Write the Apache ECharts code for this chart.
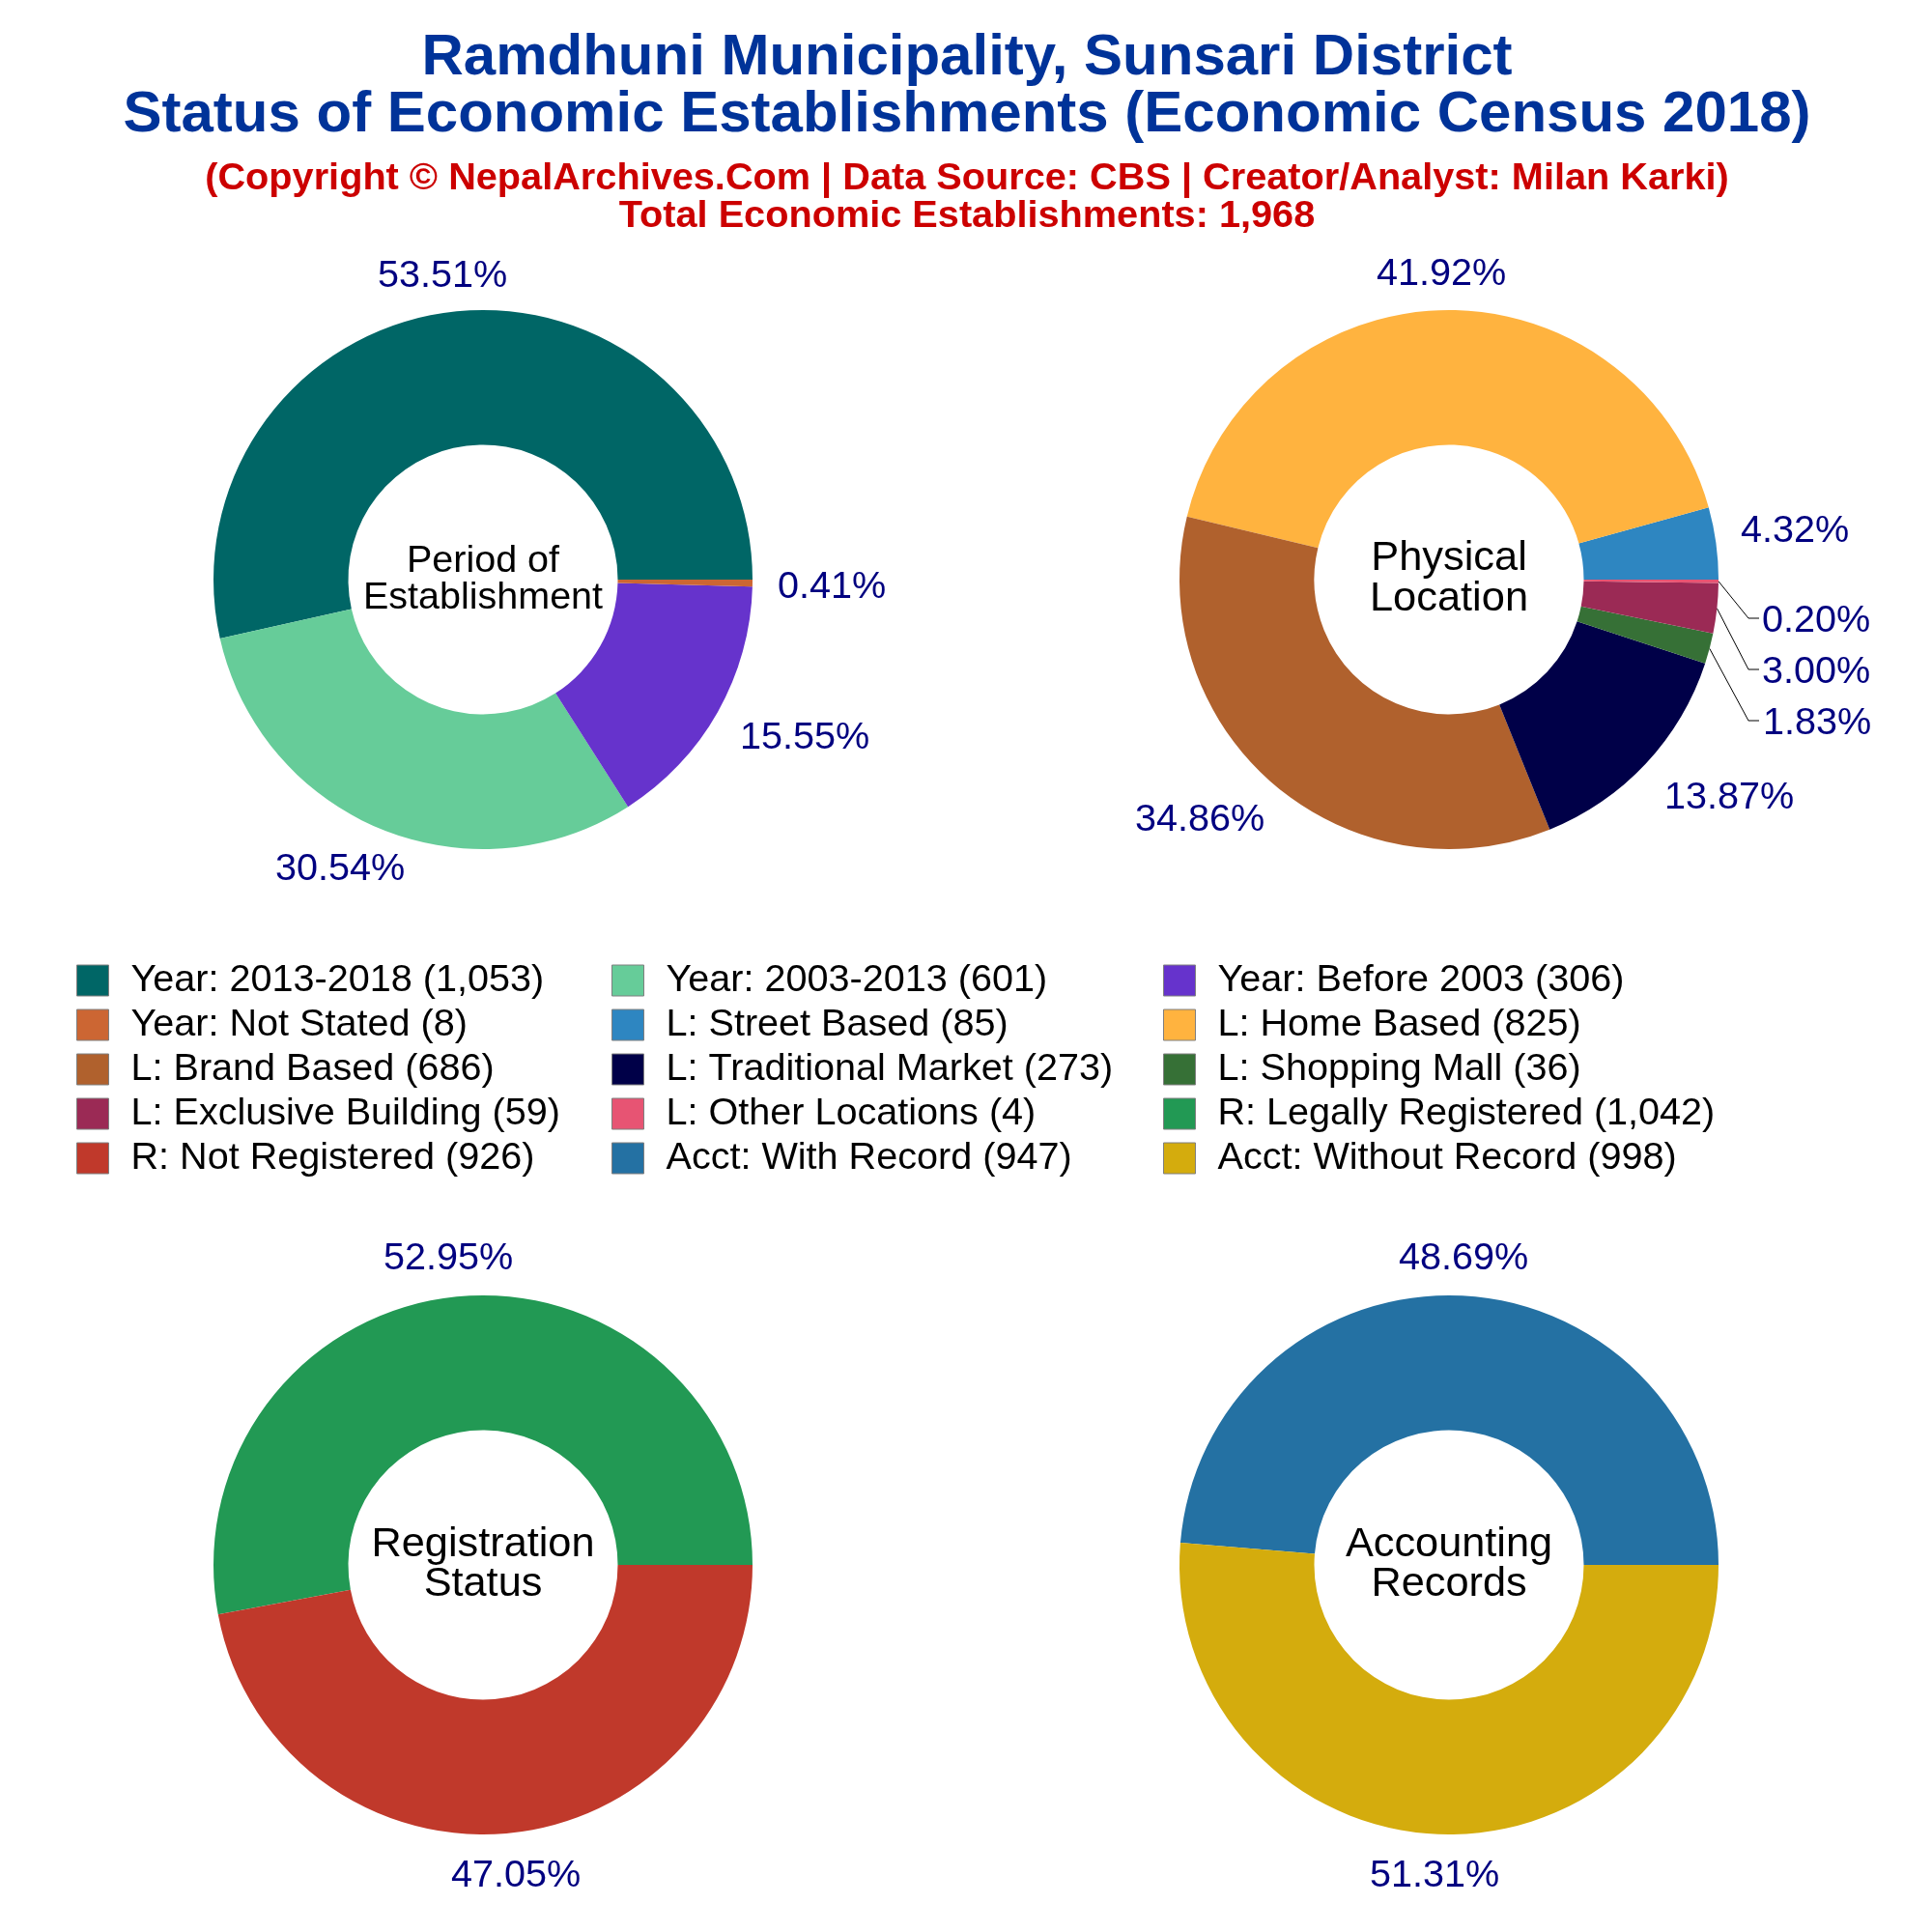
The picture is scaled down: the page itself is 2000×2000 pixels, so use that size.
<!DOCTYPE html>
<html>
<head>
<meta charset="utf-8">
<title>Ramdhuni Municipality</title>
<script src="https://cdn.jsdelivr.net/npm/echarts@6/dist/echarts.min.js"></script>
<style>
body { margin: 0; background: #fff; }
#chart { width: 2000px; height: 2000px; }
</style>
</head>
<body>
<div id="chart"></div>
<script>
// chart data
var periodNames = ['Year: 2013-2018', 'Year: 2003-2013', 'Year: Before 2003', 'Year: Not Stated'];
var periodValues = [1053, 601, 306, 8];
var locationNames = ['L: Street Based', 'L: Home Based', 'L: Brand Based', 'L: Traditional Market', 'L: Shopping Mall', 'L: Exclusive Building', 'L: Other Locations'];
var locationValues = [85, 825, 686, 273, 36, 59, 4];
var registrationNames = ['R: Legally Registered', 'R: Not Registered'];
var registrationValues = [1042, 926];
var accountNames = ['Acct: With Record', 'Acct: Without Record'];
var accountValues = [947, 998];

var periodColors = ['#006666', '#66CC99', '#6633CC', '#CC6633'];
var locationColors = ['#2E86C1', '#FFB33F', '#B0612D', '#000048', '#367036', '#9B2A55', '#E75473'];
var registrationColors = ['#229954', '#C0392B'];
var accountColors = ['#2471A3', '#D4AC0D'];

var FONT = '"Liberation Sans", Arial, sans-serif';
var LABEL_SIZE = 39.6;

function withCount(name, value) {
    return name + ' (' + value.toLocaleString('en-US') + ')';
}

// label centres, one list per pie, in slice order
var periodLabelPos = [[458, 283], [352, 897], [833, 761], [861, 605]];
var locationLabelPos = [[1858, 547], [1492, 281], [1242, 846], [1790, 823], [1881, 746], [1880, 693], [1880, 640]];
var registrationLabelPos = [[464, 1300], [534, 1939]];
var accountLabelPos = [[1515, 1300], [1485, 1939]];
var LEADER_CUTOFF = 0.035;

function makePie(names, values, colors, center, labelPos) {
    var total = values.reduce(function (a, b) { return a + b; }, 0);
    // only the crowded location pie has leader lines
    function hasLeader(v) {
        return names.length > 4 && v / total < LEADER_CUTOFF;
    }
    return {
        type: 'pie',
        center: center,
        radius: [139.5, 279],
        startAngle: 0,
        clockwise: false,
        avoidLabelOverlap: false,
        animation: false,
        silent: true,
        label: {
            show: true,
            position: 'outside',
            formatter: function (p) {
                return (p.value / total * 100).toFixed(2) + '%';
            },
            color: '#000080',
            fontFamily: FONT,
            fontSize: LABEL_SIZE
        },
        labelLine: { show: false },
        labelLayout: function (p) {
            var pos = labelPos[p.dataIndex];
            var out = { x: pos[0], y: pos[1] + 3, align: 'center', verticalAlign: 'middle' };
            if (hasLeader(values[p.dataIndex]) && p.labelLinePoints) {
                out.labelLinePoints = [p.labelLinePoints[0], [1810, pos[1]], [1821, pos[1]]];
            }
            return out;
        },
        data: values.map(function (v, i) {
            return {
                name: withCount(names[i], v),
                value: v,
                itemStyle: { color: colors[i] },
                labelLine: { show: hasLeader(v), showAbove: true, lineStyle: { color: '#000', width: 1 } }
            };
        })
    };
}

function centerTitle(text, x, y, size, lineHeight) {
    return {
        text: text,
        left: x,
        top: y - lineHeight,
        padding: 0,
        textAlign: 'center',
        textStyle: { color: '#000', fontFamily: FONT, fontSize: size, fontWeight: 'normal', lineHeight: lineHeight }
    };
}

function headTitle(text, y, size, color, lineHeight) {
    return {
        text: text,
        left: 1001,
        top: y,
        padding: 0,
        textAlign: 'center',
        textStyle: { color: color, fontFamily: FONT, fontSize: size, fontWeight: 'bold', lineHeight: lineHeight }
    };
}

// legend reads across rows, so each column takes every third entry
var legendOrder = [
    withCount(periodNames[0], periodValues[0]), withCount(periodNames[1], periodValues[1]), withCount(periodNames[2], periodValues[2]),
    withCount(periodNames[3], periodValues[3]), withCount(locationNames[0], locationValues[0]), withCount(locationNames[1], locationValues[1]),
    withCount(locationNames[2], locationValues[2]), withCount(locationNames[3], locationValues[3]), withCount(locationNames[4], locationValues[4]),
    withCount(locationNames[5], locationValues[5]), withCount(locationNames[6], locationValues[6]), withCount(registrationNames[0], registrationValues[0]),
    withCount(registrationNames[1], registrationValues[1]), withCount(accountNames[0], accountValues[0]), withCount(accountNames[1], accountValues[1])
];

function legendColumn(col, left) {
    return {
        orient: 'vertical',
        left: left,
        top: 995,
        padding: 0,
        itemWidth: 33,
        itemHeight: 32,
        itemGap: 6,
        selectedMode: false,
        icon: 'rect',
        itemStyle: { borderColor: '#7f7f7f', borderWidth: 1 },
        textStyle: { color: '#000', fontFamily: FONT, fontSize: LABEL_SIZE, lineHeight: 32, padding: [0, 0, 0, 18] },
        data: legendOrder.filter(function (n, i) { return i % 3 === col; })
    };
}

var chart = echarts.init(document.getElementById('chart'));
chart.setOption({
    backgroundColor: '#fff',
    animation: false,
    title: [
        headTitle('Ramdhuni Municipality, Sunsari District\nStatus of Economic Establishments (Economic Census 2018)', 31, 60, '#003399', 59),
        headTitle('(Copyright © NepalArchives.Com | Data Source: CBS | Creator/Analyst: Milan Karki)\nTotal Economic Establishments: 1,968', 166, 39.7, '#CC0000', 39),
        centerTitle('Period of\nEstablishment', 500, 600, 39.5, 38),
        centerTitle('Physical\nLocation', 1500, 599, 43.4, 42),
        centerTitle('Registration\nStatus', 500, 1620, 43.3, 41),
        centerTitle('Accounting\nRecords', 1500, 1620, 43.3, 41)
    ],
    legend: [legendColumn(0, 79), legendColumn(1, 633), legendColumn(2, 1204)],
    series: [
        makePie(periodNames, periodValues, periodColors, [500, 600], periodLabelPos),
        makePie(locationNames, locationValues, locationColors, [1500, 600], locationLabelPos),
        makePie(registrationNames, registrationValues, registrationColors, [500, 1620], registrationLabelPos),
        makePie(accountNames, accountValues, accountColors, [1500, 1620], accountLabelPos)
    ]
});
</script>
</body>
</html>
